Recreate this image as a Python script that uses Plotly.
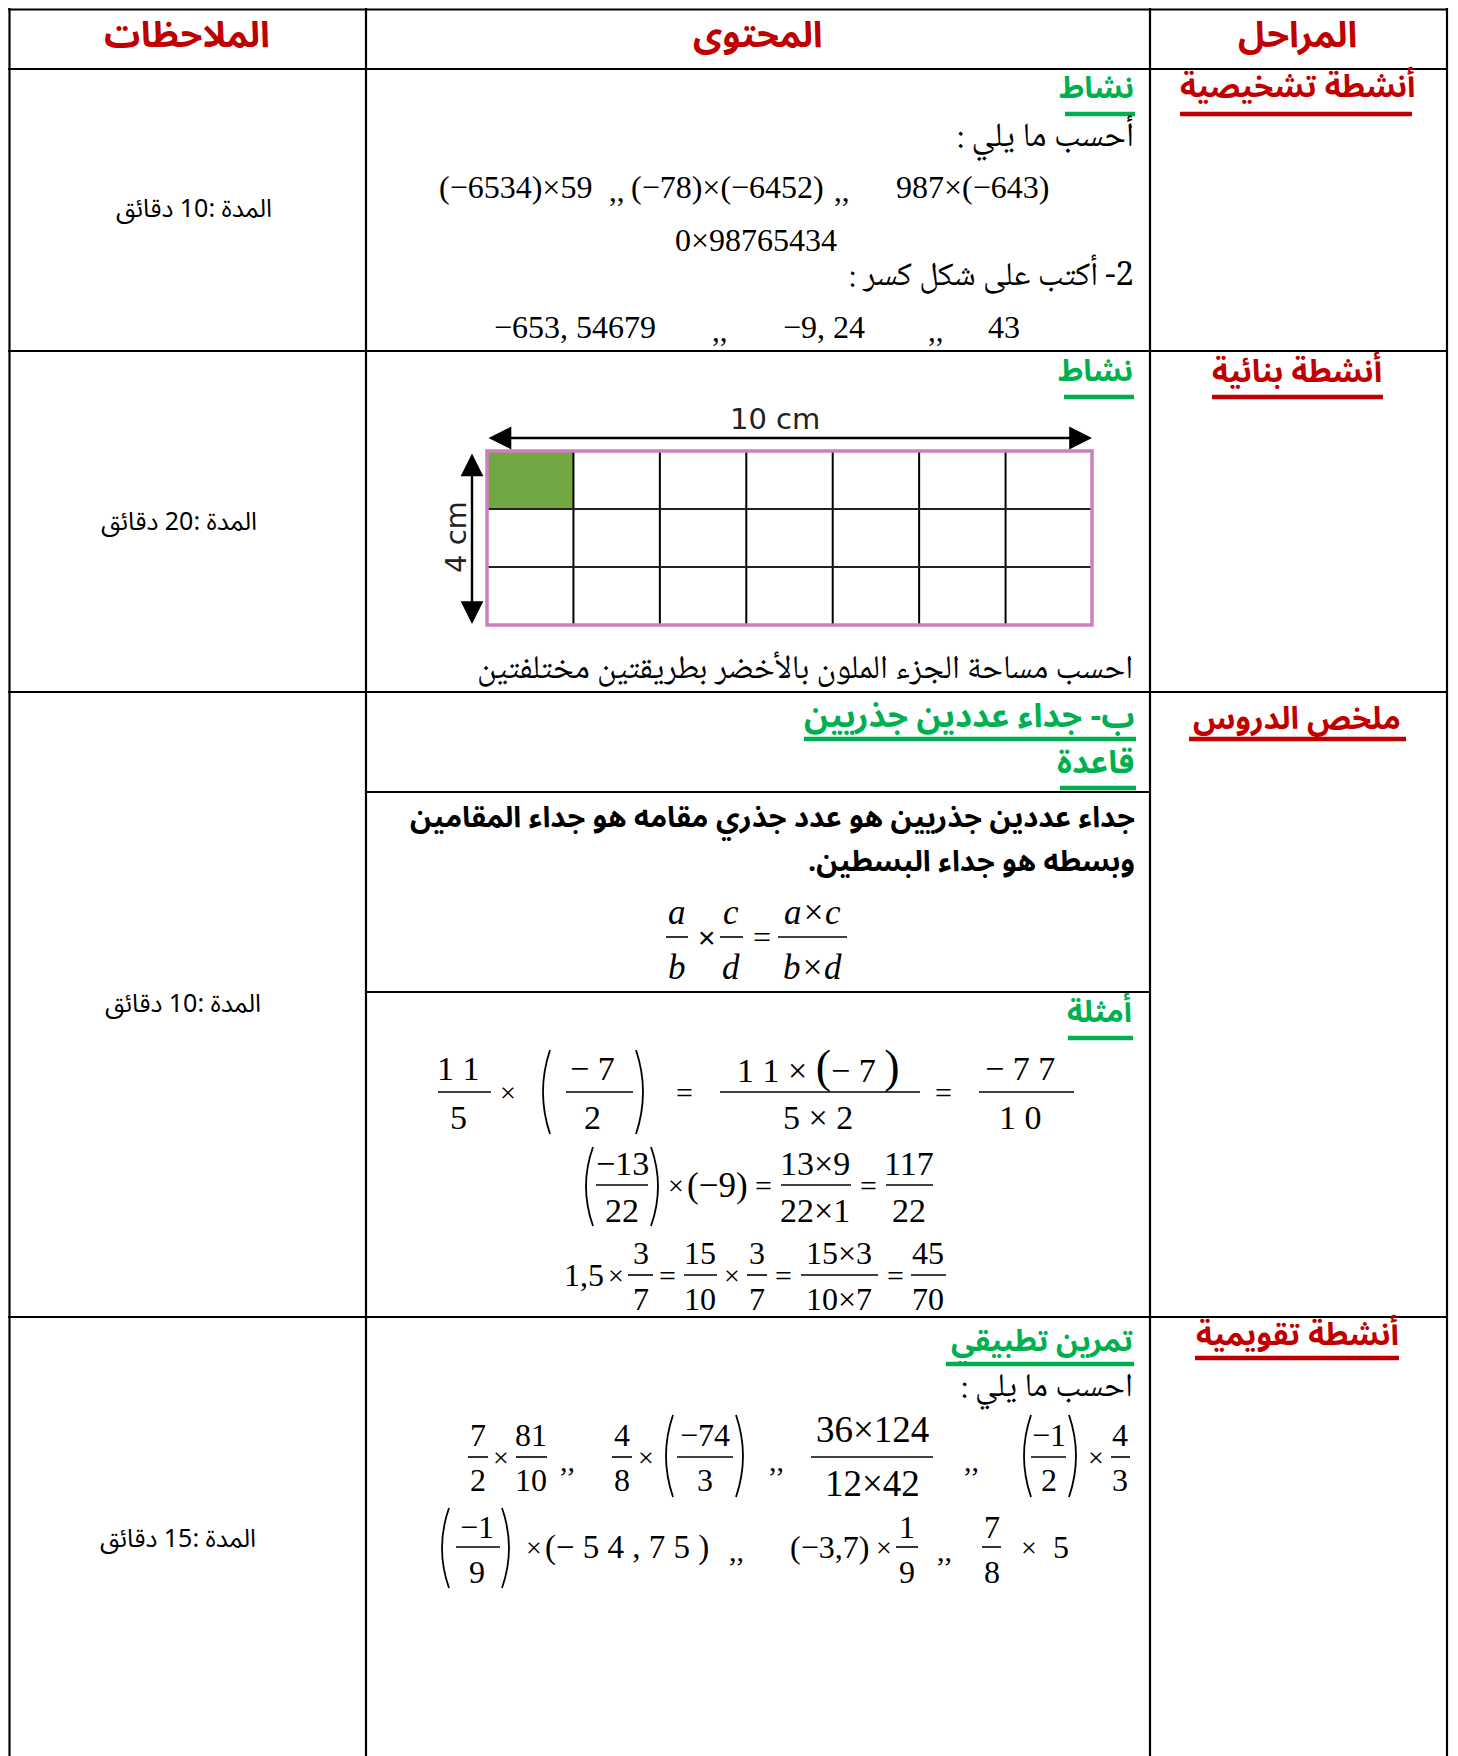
import plotly.graph_objects as go

# ---- table text ----
HEADERS = ["الملاحظات", "المحتوى", "المراحل"]
STAGES = ["أنشطة تشخيصية", "أنشطة بنائية", "ملخص الدروس", "أنشطة تقويمية"]
DURATIONS = [10, 20, 10, 15]

# ---- row 1 : diagnostic activity ----
ACTIVITY_TITLE = "نشاط"
ACTIVITY1_LINES = ["أحسب ما يلي :", "2- أكتب على شكل كسر :"]
PRODUCTS = ["(−6534)×59", "(−78)×(−6452)", "987×(−643)"]
ZERO_PRODUCT = "0×98765434"
DECIMALS = ["−653, 54679", "−9, 24", "43"]

# ---- row 2 : grid activity ----
GRID_COLS = 7
GRID_ROWS = 3
SHADED_CELLS = [(0, 0)]
DIM_LABELS = ["10 cm", "4 cm"]
ACTIVITY2_TASK = "احسب مساحة الجزء الملون بالأخضر بطريقتين مختلفتين"

# ---- row 3 : lesson summary ----
SUMMARY_TITLES = ["ب- جداء عددين جذريين", "قاعدة", "أمثلة"]
RULE_LINES = ["جداء عددين جذريين هو عدد جذري مقامه هو جداء المقامين",
              "وبسطه هو جداء البسطين."]
RULE_FORMULA = [("a", "b"), ("c", "d"), ("a×c", "b×d")]
EXAMPLE1 = [("1 1", "5"), ("− 7", "2"), ("1 1 × (− 7 )", "5 × 2"), ("− 7 7", "1 0")]
EXAMPLE2 = [("−13", "22"), ("13×9", "22×1"), ("117", "22")]
EXAMPLE2_FACTOR = "(−9)"
EXAMPLE3_FACTOR = "1,5"
EXAMPLE3 = [("3", "7"), ("15", "10"), ("3", "7"), ("15×3", "10×7"), ("45", "70")]

# ---- row 4 : exercise ----
EXERCISE_TITLE = "تمرين تطبيقي"
EXERCISE_PROMPT = "احسب ما يلي :"
EXERCISE_ROW1 = [("7", "2"), ("81", "10"), ("4", "8"), ("−74", "3"),
                 ("36×124", "12×42"), ("−1", "2"), ("4", "3")]
EXERCISE_ROW2 = [("−1", "9"), ("1", "9"), ("7", "8")]
EXERCISE_TERMS = ["(− 5 4 , 7 5 )", "(−3,7)", "5"]

W, H = 1458, 1756
OFF = 8  # the page body adds an 8px margin, so data units = page pixels
RED = "#c00000"
GREEN = "#00b050"
SERIF = "Liberation Serif, Times New Roman, serif"
AR_BOLD = "Noto Sans Arabic, DejaVu Sans, Arial, sans-serif"
AR_TEXT = "Noto Naskh Arabic, Noto Sans Arabic, DejaVu Sans, serif"
AR_NOTE = "Noto Sans Arabic, DejaVu Sans, sans-serif"

fig = go.Figure()


def rtl(s):
    return "\u202b" + s + "\u202c"


def txt(x, y, s, size, color="black", family=SERIF, xa="center", bold=False, angle=0):
    if bold:
        s = "<b>" + s + "</b>"
    fig.add_annotation(x=x, y=y, text=s, showarrow=False, xanchor=xa, yanchor="middle",
                       font=dict(size=size, color=color, family=family), textangle=angle,
                       borderpad=0)


def line(x0, x1, y0, y1, width=2, color="black"):
    fig.add_shape(type="line", x0=x0, x1=x1, y0=y0, y1=y1, xref="x", yref="y",
                  line=dict(color=color, width=width))


def frac(cx, bar_y, pair, x0, x1, size=32, up=23, down=24, italic=False):
    num, den = pair
    if italic:
        num, den = "<i>" + num + "</i>", "<i>" + den + "</i>"
    line(x0, x1, bar_y, bar_y, width=1.6)
    txt(cx, bar_y - up, num, size)
    txt(cx, bar_y + down, den, size)


def paren(x, y0, y1, side, w=7):
    ym = (y0 + y1) / 2
    if side == "l":
        p = f"M {x + w},{y0} Q {x - w},{ym} {x + w},{y1}"
    else:
        p = f"M {x - w},{y0} Q {x + w},{ym} {x - w},{y1}"
    fig.add_shape(type="path", path=p, xref="x", yref="y", line=dict(color="black", width=1.8))


def heading(x_right, y, s, color, size, ul_y, ul_x0):
    txt(x_right, y, rtl(s), size, color=color, family=AR_BOLD, xa="right", bold=True)
    line(ul_x0, x_right, ul_y, ul_y, width=4.5, color=color)


# ======= TABLE FRAME =======
col_x = [9.5, 366, 1150, 1447]
row_y = [9.5, 69, 351, 692, 1317]
for x in col_x:
    line(x, x, 8, H + OFF, width=2.2)
for y in row_y:
    line(8, 1448, y, y, width=2.2)
for y in [792, 992]:
    line(366, 1150, y, y, width=2.2)

# ======= HEADER =======
for s, x in zip(HEADERS, [187, 758, 1297]):
    txt(x, 36, s, 36, color=RED, family=AR_BOLD, bold=True)

stage_pos = [(87, 114, 1180, 1412), (372, 397, 1212, 1383),
             (719, 739, 1189, 1406), (1335, 1358, 1195, 1399)]
for s, (y, uy, ux0, ux1) in zip(STAGES, stage_pos):
    txt(1297, y, rtl(s), 31, color=RED, family=AR_BOLD, bold=True)
    line(ux0, ux1, uy, uy, width=4.5, color=RED)

for d, (x, y) in zip(DURATIONS, [(194, 209), (179, 522), (183, 1004), (178, 1539)]):
    txt(x, y, "المدة :" + str(d) + " دقائق", 25, family=AR_NOTE)

# ======= ROW 1 =======
heading(1135, 88, ACTIVITY_TITLE, GREEN, 30, 114, 1065)
txt(1135, 139, rtl(ACTIVITY1_LINES[0]), 34, family=AR_TEXT, xa="right")
for s, x in zip(PRODUCTS, [515, 727, 972]):
    txt(x, 187, s, 32)
for x in [617, 842]:
    txt(x, 190, ",,", 31)
txt(756, 240, ZERO_PRODUCT, 32)
txt(1135, 278, rtl(ACTIVITY1_LINES[1]), 33, family=AR_TEXT, xa="right")
for s, x in zip(DECIMALS, [575, 824, 1004]):
    txt(x, 327, s, 32)
for x in [720, 936]:
    txt(x, 330, ",,", 31)

# ======= ROW 2 : GRID =======
heading(1134, 371, ACTIVITY_TITLE, GREEN, 30, 397, 1064)
gx0, gx1, gy0, gy1 = 487, 1092, 451, 625
cw = (gx1 - gx0) / GRID_COLS
ch = (gy1 - gy0) / GRID_ROWS
for c, r in SHADED_CELLS:
    fig.add_shape(type="rect", x0=gx0 + c * cw, x1=gx0 + (c + 1) * cw,
                  y0=gy0 + r * ch, y1=gy0 + (r + 1) * ch, xref="x", yref="y",
                  fillcolor="#70a742", line=dict(width=0))
for c in range(1, GRID_COLS):
    line(gx0 + c * cw, gx0 + c * cw, gy0, gy1, width=2)
for r in range(1, GRID_ROWS):
    line(gx0, gx1, gy0 + r * ch, gy0 + r * ch, width=2.2, color="#222")
fig.add_shape(type="rect", x0=gx0, x1=gx1, y0=gy0, y1=gy1, xref="x", yref="y",
              line=dict(color="#cc80bf", width=3.5))

fig.add_annotation(x=1092, y=438, ax=487, ay=438, xref="x", yref="y", axref="x", ayref="y",
                   text="", showarrow=True, arrowhead=2, arrowside="end+start",
                   arrowsize=1.9, arrowwidth=2.4, arrowcolor="black", standoff=0, startstandoff=0)
fig.add_annotation(x=472, y=624, ax=472, ay=452, xref="x", yref="y", axref="x", ayref="y",
                   text="", showarrow=True, arrowhead=2, arrowside="end+start",
                   arrowsize=1.9, arrowwidth=2.4, arrowcolor="black", standoff=0, startstandoff=0)
txt(775, 419, DIM_LABELS[0], 29, color="#222", family="DejaVu Sans, sans-serif")
txt(456, 537, DIM_LABELS[1], 29, color="#222", family="DejaVu Sans, sans-serif", angle=-90)
txt(1134, 671, rtl(ACTIVITY2_TASK), 33, family=AR_TEXT, xa="right")

# ======= ROW 3 : SUMMARY =======
heading(1136, 716, SUMMARY_TITLES[0], GREEN, 33, 739, 804)
heading(1136, 763, SUMMARY_TITLES[1], GREEN, 32, 788, 1060)
txt(1136, 817, rtl(RULE_LINES[0]), 29, family=AR_BOLD, xa="right", bold=True)
txt(1136, 861, rtl(RULE_LINES[1]), 29, family=AR_BOLD, xa="right", bold=True)

frac(677, 937, RULE_FORMULA[0], 666, 688, size=35, up=25, down=30, italic=True)
frac(731, 937, RULE_FORMULA[1], 720, 743, size=35, up=25, down=30, italic=True)
frac(812, 937, RULE_FORMULA[2], 778, 847, size=35, up=25, down=30, italic=True)
txt(707, 937, "×", 30, family="Liberation Sans, Arial, sans-serif")
txt(762, 937, "=", 32)

heading(1133, 1012, SUMMARY_TITLES[2], GREEN, 30, 1038, 1068)

# example 1
by = 1092
frac(458, by, EXAMPLE1[0], 438, 491, size=34, up=24, down=25)
txt(508, by, "×", 28)
paren(543, 1050, 1134, "l")
frac(592, by, EXAMPLE1[1], 566, 633, size=34, up=24, down=25)
paren(643, 1050, 1134, "r")
txt(684, by, "=", 30)
big = EXAMPLE1[2][0].replace("(", "<span style='font-size:46px'>(</span>").replace(
    ")", "<span style='font-size:46px'>)</span>")
frac(818, by, (big, EXAMPLE1[2][1]), 720, 920, size=34, up=26, down=25)
txt(943, by, "=", 30)
frac(1020, by, EXAMPLE1[3], 979, 1074, size=34, up=24, down=25)

# example 2
by = 1185
paren(586, 1147, 1226, "l")
frac(622, by, EXAMPLE2[0], 596, 648, size=34, up=22, down=25)
paren(658, 1147, 1226, "r")
txt(676, by, "×", 28)
txt(717, by, EXAMPLE2_FACTOR, 35)
txt(763, by, "=", 30)
frac(815, by, EXAMPLE2[1], 781, 851, size=34, up=22, down=25)
txt(868, by, "=", 30)
frac(909, by, EXAMPLE2[2], 886, 933, size=34, up=22, down=25)

# example 3
by = 1275
txt(584, by, EXAMPLE3_FACTOR, 32)
txt(616, by, "×", 28)
frac(641, by, EXAMPLE3[0], 628, 653, size=32, up=22, down=24)
txt(667, by, "=", 30)
frac(700, by, EXAMPLE3[1], 684, 717, size=32, up=22, down=24)
txt(732, by, "×", 28)
frac(757, by, EXAMPLE3[2], 747, 767, size=32, up=22, down=24)
txt(783, by, "=", 30)
frac(839, by, EXAMPLE3[3], 801, 878, size=32, up=22, down=24)
txt(895, by, "=", 30)
frac(928, by, EXAMPLE3[4], 911, 946, size=32, up=22, down=24)

# ======= ROW 4 : EXERCISE =======
heading(1134, 1341, EXERCISE_TITLE, GREEN, 30, 1364, 946)
txt(1134, 1389, rtl(EXERCISE_PROMPT), 33, family=AR_TEXT, xa="right")

by = 1457
frac(478, by, EXERCISE_ROW1[0], 468, 488, size=32, up=22, down=23)
txt(501, by, "×", 28)
frac(531, by, EXERCISE_ROW1[1], 516, 547, size=32, up=22, down=23)
txt(567, by + 3, ",,", 30)
frac(622, by, EXERCISE_ROW1[2], 612, 632, size=32, up=22, down=23)
txt(646, by, "×", 28)
paren(666, 1415, 1497, "l")
frac(705, by, EXERCISE_ROW1[3], 677, 733, size=32, up=22, down=23)
paren(743, 1415, 1497, "r")
txt(776, by + 3, ",,", 30)
frac(872, by, EXERCISE_ROW1[4], 811, 933, size=37, up=28, down=26)
txt(971, by + 3, ",,", 30)
paren(1024, 1415, 1497, "l")
frac(1049, by, EXERCISE_ROW1[5], 1031, 1066, size=32, up=22, down=23)
paren(1076, 1415, 1497, "r")
txt(1096, by, "×", 28)
frac(1120, by, EXERCISE_ROW1[6], 1111, 1130, size=32, up=22, down=23)

by = 1547
paren(442, 1508, 1588, "l")
frac(477, by, EXERCISE_ROW2[0], 456, 500, size=32, up=20, down=25)
paren(509, 1508, 1588, "r")
txt(534, by, "×", 28)
txt(627, by, EXERCISE_TERMS[0], 33)
txt(736, by + 3, ",,", 30)
txt(829, by, EXERCISE_TERMS[1], 32)
txt(884, by, "×", 28)
frac(907, by, EXERCISE_ROW2[1], 896, 918, size=32, up=20, down=25)
txt(944, by + 3, ",,", 30)
frac(992, by, EXERCISE_ROW2[2], 982, 1001, size=32, up=20, down=25)
txt(1029, by, "×", 28)
txt(1061, by, EXERCISE_TERMS[2], 32)

fig.update_layout(
    width=W, height=H,
    margin=dict(l=0, r=0, t=0, b=0),
    paper_bgcolor="white", plot_bgcolor="white",
    showlegend=False,
)
fig.update_xaxes(range=[OFF, W + OFF], visible=False, fixedrange=True)
fig.update_yaxes(range=[H + OFF, OFF], visible=False, fixedrange=True)

fig.write_html("out.html")
